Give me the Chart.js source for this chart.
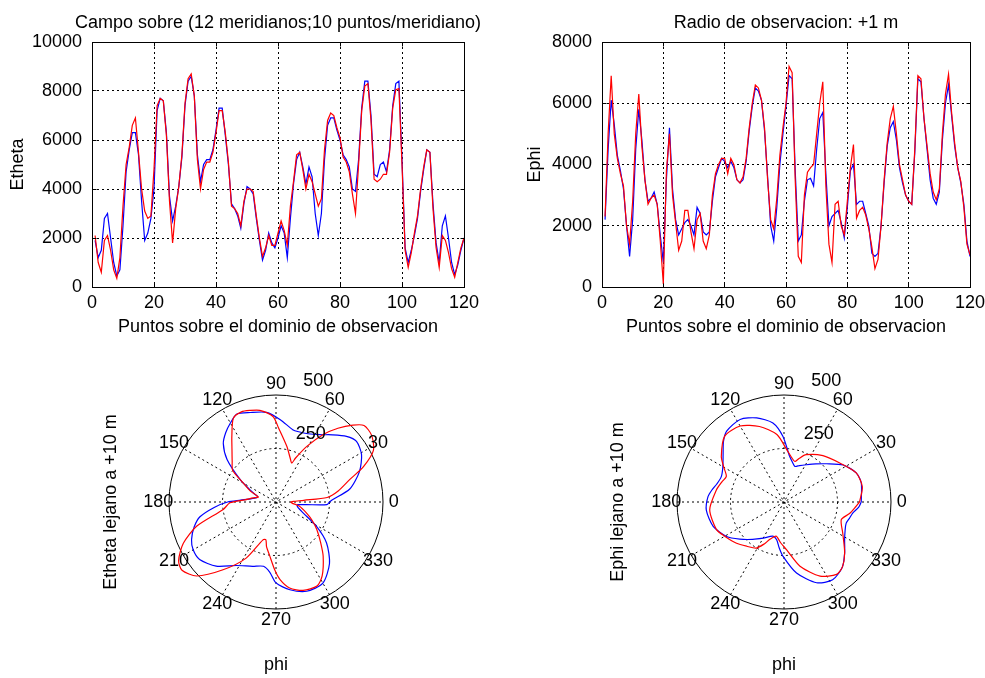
<!DOCTYPE html>
<html>
<head>
<meta charset="utf-8">
<script src="https://cdn.jsdelivr.net/npm/chart.js@4.4.1/dist/chart.umd.min.js"></script>
<style>
  body { margin: 0; background: #fff; width: 985px; height: 678px; overflow: hidden; position: relative; }
  canvas { position: absolute; }
</style>
</head>
<body>
<canvas id="etheta" width="556" height="340" style="left:0;top:0"></canvas>
<canvas id="ephi" width="572" height="340" style="left:500px;top:0"></canvas>
<canvas id="ethetaLejano" width="380" height="318" style="left:90px;top:360px"></canvas>
<canvas id="ephiLejano" width="385" height="318" style="left:600px;top:360px"></canvas>
<script>
// ---- datos ----
const puntos = Array.from({ length: 120 }, (_, i) => i + 1);

const ethetaAzul = [1900, 1200, 1500, 2800, 3000, 2000, 1000, 450, 700, 2500,
  4700, 5600, 6300, 6300, 5400, 3500, 1900, 2200, 2800, 4000,
  7200, 7700, 7600, 6300, 3700, 2700, 3300, 4100, 5300, 7400,
  8400, 8600, 7800, 5400, 4300, 5000, 5200, 5200, 5600, 6400,
  7300, 7300, 6200, 5000, 3400, 3200, 2900, 2400, 3400, 4100,
  4000, 3800, 2800, 1900, 1100, 1500, 2200, 1800, 1600, 2000,
  2500, 2200, 1200, 2800, 4200, 5200, 5500, 4900, 4200, 4900,
  4500, 3000, 2100, 3000, 5200, 6600, 6900, 6900, 6400, 6000,
  5400, 5200, 4900, 4000, 3900, 5200, 7300, 8400, 8400, 7000,
  4600, 4500, 5000, 5100, 4700, 5600, 7400, 8300, 8400, 5200,
  1600, 1000, 1500, 2100, 2800, 3900, 4800, 5600, 5500, 3400,
  1800, 1000, 2500, 2900, 2000, 1000, 500, 900, 1500, 2000];

const ethetaRojo = [2100, 1000, 600, 1900, 2100, 1500, 700, 350, 1200, 3300,
  5000, 5700, 6600, 6900, 5500, 4000, 3100, 2800, 2900, 4800,
  7400, 7700, 7600, 6200, 3500, 1800, 3200, 4100, 5400, 7500,
  8500, 8700, 7800, 5200, 4000, 4800, 5100, 5100, 5500, 6300,
  7200, 7200, 6300, 5100, 3300, 3200, 3000, 2500, 3500, 4000,
  4000, 3900, 2900, 2000, 1250, 1600, 2100, 1700, 1700, 2200,
  2700, 2300, 1700, 3300, 4300, 5400, 5500, 4800, 4000, 4600,
  4300, 3800, 3300, 3600, 5600, 6800, 7100, 7000, 6500, 6100,
  5300, 5100, 4700, 3800, 3000, 5000, 7200, 8200, 8300, 6800,
  4400, 4300, 4400, 4600, 4600, 5500, 7300, 8050, 8100, 5000,
  1500, 800, 1400, 2200, 2900, 4000, 4900, 5600, 5500, 3200,
  1600, 800, 2100, 1900, 1400, 750, 400, 1000, 1600, 2000];

const ephiAzul = [2200, 4500, 6100, 5300, 4300, 3800, 3200, 2000, 1000, 2200,
  4500, 5800, 4800, 3500, 2800, 2900, 3100, 2700, 1700, 800,
  3500, 5200, 3200, 2200, 1700, 1900, 2100, 2200, 2000, 1700,
  2600, 2400, 1800, 1700, 1800, 2800, 3600, 3900, 4200, 4100,
  3900, 4100, 3900, 3500, 3400, 3500, 4100, 5100, 5900, 6500,
  6400, 6100, 5100, 3600, 2000, 1500, 2600, 4000, 5000, 5900,
  6900, 6800, 3800, 1500, 1700, 2800, 3500, 3550, 3300, 4500,
  5500, 5700, 3700, 2000, 2300, 2400, 2500, 2100, 1600, 2600,
  3800, 4000, 2700, 2800, 2800, 2400, 2000, 1100, 1000, 1100,
  2000, 3400, 4600, 5200, 5400, 4800, 3900, 3400, 3000, 2800,
  2700, 4400, 6800, 6700, 5500, 4500, 3500, 2900, 2700, 3100,
  4800, 6000, 6600, 5600, 4600, 3900, 3400, 2700, 1500, 1000];

const ephiRojo = [2300, 5000, 6900, 5000, 4200, 3700, 3300, 2000, 1400, 2800,
  5000, 6300, 4600, 3500, 2700, 2900, 3000, 2700, 1500, 100,
  3800, 5000, 3000, 2100, 1200, 1500, 2500, 2500, 1800, 1250,
  2200, 2400, 1500, 1250, 1700, 3000, 3700, 4000, 4200, 4200,
  3700, 4200, 4000, 3500, 3400, 3600, 4200, 5200, 6000, 6600,
  6500, 6100, 5200, 3500, 2200, 1900, 2900, 4300, 5200, 6000,
  7200, 7000, 3500, 1000, 800, 3000, 3750, 3900, 4000, 5000,
  6000, 6700, 3300, 1400, 800, 2700, 2800, 2000, 1700, 2800,
  3900, 4650, 2250, 2500, 2600, 2350, 1900, 1300, 600, 900,
  2000, 3500, 4700, 5500, 5900, 5000, 4000, 3500, 3000, 2800,
  2700, 4500, 6900, 6800, 5500, 4600, 3700, 3100, 2850, 3200,
  5000, 6300, 6950, 5700, 4700, 3900, 3450, 2600, 1400, 1050];

const ticksPuntos = [0, 20, 40, 60, 80, 100, 120];
const ticksEtheta = [0, 2000, 4000, 6000, 8000, 10000];
const ticksEphi = [0, 2000, 4000, 6000, 8000];

// campo lejano: angulo (grados) y radio
const angEthetaAzul = [0, 2, 10, 20, 29, 37, 43, 50, 57, 65, 72, 77, 87, 96, 106, 114, 120, 126, 132, 139,
  148, 155, 160, 165, 172, 177, 180, 185, 191, 197, 204, 210, 217, 227, 238, 250, 259, 265, 270, 279,
  289, 300, 311, 321, 329, 338, 345, 350, 353, 355, 357, 360];
const radEthetaAzul = [250, 262, 350, 415, 457, 471, 450, 410, 375, 352, 345, 347, 385, 421, 435, 450, 426, 400, 368, 303,
  197, 134, 105, 88, 114, 165, 226, 290, 362, 400, 432, 447, 447, 410, 350, 320, 306, 330, 378, 415,
  441, 438, 381, 304, 221, 138, 108, 100, 102, 142, 238, 250];
const angEthetaRojo = [0, 2, 3.5, 5, 10, 17, 22, 28, 35, 41, 45, 50, 55, 61, 66, 68, 72, 79, 88, 92,
  100, 106, 111, 117, 124, 130, 137, 144, 150, 157, 164, 170, 176, 181, 188, 197, 204, 211, 216, 223,
  232, 242, 251, 255, 258, 263, 269, 273, 279, 287, 296, 302, 311, 318, 326, 333, 340, 350, 356, 360];
const radEthetaRojo = [68, 80, 130, 240, 295, 361, 441, 516, 545, 545, 508, 450, 385, 297, 225, 196, 215, 265, 346, 400,
  435, 445, 451, 439, 369, 320, 280, 250, 176, 130, 86, 109, 146, 215, 249, 388, 474, 531, 543, 507,
  402, 297, 187, 183, 213, 250, 318, 363, 407, 432, 437, 407, 336, 280, 230, 190, 152, 110, 75, 68];

const angEphiAzul = [0, 14, 22, 32, 42, 50, 59, 67, 73, 78, 83, 91, 98, 108, 118, 129, 135, 141, 150, 158,
  165, 170, 176, 186, 199, 211, 220, 230, 240, 252, 259, 264, 269, 280, 292, 302, 312, 320, 328, 335,
  341, 346, 351, 356, 360];
const radEphiAzul = [361, 372, 364, 326, 267, 232, 203, 185, 174, 190, 215, 307, 373, 413, 437, 426, 400, 366, 330, 316,
  325, 340, 356, 365, 350, 313, 270, 228, 195, 168, 180, 215, 254, 337, 407, 429, 408, 370, 334, 315,
  307, 315, 326, 350, 361];
const angEphiRojo = [0, 11, 22, 35, 50, 65, 71, 75, 80, 87, 96, 108, 120, 132, 144, 150, 156, 162, 170, 186,
  202, 210, 221, 230, 239, 245, 249, 257, 265, 273, 284, 296, 306, 312, 320, 332, 343, 350, 356, 360];
const radEphiRojo = [353, 373, 364, 318, 283, 244, 215, 196, 210, 245, 317, 371, 410, 414, 362, 325, 295, 305, 321, 349,
  341, 320, 294, 270, 251, 215, 188, 164, 190, 223, 309, 385, 418, 408, 370, 311, 280, 311, 335, 353];

const angulosPolar = [0, 30, 60, 90, 120, 150, 180, 210, 240, 270, 300, 330];
const radiosPolar = [250, 500];

// ---- estilo ----
Chart.defaults.font.family = '"Liberation Sans", Arial, Helvetica, sans-serif';
Chart.defaults.font.size = 18;
Chart.defaults.color = '#000';
const AZUL = '#0000ff';
const ROJO = '#ff0000';
const punteado = [2, 3];

const al = v => Math.round(v - 0.5) + 0.5;

// caja y marcas de escala al estilo matlab
const marco = {
  id: 'marco',
  afterDraw(chart) {
    const { ctx, chartArea: a, scales: { x, y } } = chart;
    const l = al(a.left), r = al(a.right), t = al(a.top), b = al(a.bottom);
    ctx.save();
    ctx.strokeStyle = '#000';
    ctx.lineWidth = 1;
    ctx.setLineDash([]);
    ctx.strokeRect(l, t, r - l, b - t);
    ctx.beginPath();
    x.ticks.forEach(tk => {
      const px = al(x.getPixelForValue(tk.value));
      ctx.moveTo(px, b); ctx.lineTo(px, b - 4);
      ctx.moveTo(px, t); ctx.lineTo(px, t + 4);
    });
    y.ticks.forEach(tk => {
      const py = al(y.getPixelForValue(tk.value));
      ctx.moveTo(l, py); ctx.lineTo(l + 4, py);
      ctx.moveTo(r, py); ctx.lineTo(r - 4, py);
    });
    ctx.stroke();
    ctx.restore();
  }
};

// margenDer: eje vacio a la derecha para que el titulo quede centrado sobre el grafico
function graficoLineal(id, azul, rojo, ticksY, titulo, tituloY, anchoY, padTituloY, margenDer) {
  return new Chart(document.getElementById(id), {
    type: 'line',
    data: {
      datasets: [
        { data: azul.map((v, i) => ({ x: puntos[i], y: v })), borderColor: AZUL, order: 2 },
        { data: rojo.map((v, i) => ({ x: puntos[i], y: v })), borderColor: ROJO, order: 1 }
      ]
    },
    options: {
      responsive: false,
      animation: false,
      devicePixelRatio: 1,
      layout: { padding: 0 },
      elements: {
        line: { borderWidth: 1.2, tension: 0, fill: false },
        point: { radius: 0 }
      },
      plugins: {
        legend: { display: false },
        tooltip: { enabled: false },
        title: {
          display: true,
          text: titulo,
          font: { size: 18, weight: 'normal' },
          padding: { top: 12, bottom: 8.4 }
        }
      },
      scales: {
        x: {
          type: 'linear',
          min: 0,
          max: 120,
          afterBuildTicks: s => { s.ticks = ticksPuntos.map(v => ({ value: v })); },
          afterFit: s => { s.height = 53; },
          ticks: { padding: 5, maxRotation: 0, callback: v => String(v) },
          grid: { color: '#000', lineWidth: 1, drawTicks: false },
          border: { display: false, dash: punteado },
          title: { display: true, text: 'Puntos sobre el dominio de observacion', padding: { top: 0, bottom: 2 } }
        },
        y: {
          min: 0,
          max: ticksY[ticksY.length - 1],
          afterBuildTicks: s => { s.ticks = ticksY.map(v => ({ value: v })); },
          afterFit: s => { s.width = anchoY; },
          ticks: { padding: 10, callback: v => String(v) },
          grid: { color: '#000', lineWidth: 1, drawTicks: false },
          border: { display: false, dash: punteado },
          title: { display: true, text: tituloY, padding: { top: padTituloY, bottom: 0 } }
        },
        derecha: {
          type: 'linear',
          position: 'right',
          afterFit: s => { s.width = margenDer; },
          ticks: { display: false },
          grid: { display: false },
          border: { display: false }
        }
      }
    },
    plugins: [marco]
  });
}

// rejilla polar de matlab
const rejillaPolar = {
  id: 'rejillaPolar',
  beforeDatasetsDraw(chart) {
    const { ctx, scales: { x, y } } = chart;
    const rMax = radiosPolar[radiosPolar.length - 1];
    const cx = x.getPixelForValue(0), cy = y.getPixelForValue(0);
    const R = x.getPixelForValue(rMax) - cx;
    ctx.save();
    ctx.strokeStyle = '#000';
    ctx.lineWidth = 1;
    ctx.beginPath();
    ctx.arc(cx, cy, R, 0, 2 * Math.PI);
    ctx.stroke();
    ctx.setLineDash(punteado);
    radiosPolar.slice(0, -1).forEach(r => {
      ctx.beginPath();
      ctx.arc(cx, cy, r / rMax * R, 0, 2 * Math.PI);
      ctx.stroke();
    });
    angulosPolar.slice(0, 6).forEach(a => {
      const c = Math.cos(a * Math.PI / 180) * R, s = Math.sin(a * Math.PI / 180) * R;
      ctx.beginPath();
      ctx.moveTo(cx - c, cy + s);
      ctx.lineTo(cx + c, cy - s);
      ctx.stroke();
    });
    ctx.restore();
  },
  afterDraw(chart) {
    const { ctx, scales: { x, y } } = chart;
    const rMax = radiosPolar[radiosPolar.length - 1];
    const cx = x.getPixelForValue(0), cy = y.getPixelForValue(0);
    const R = x.getPixelForValue(rMax) - cx;
    ctx.save();
    ctx.fillStyle = '#000';
    ctx.font = '18px "Liberation Sans", Arial, sans-serif';
    ctx.textAlign = 'center';
    ctx.textBaseline = 'middle';
    angulosPolar.forEach(a => {
      const t = a * Math.PI / 180;
      ctx.fillText(String(a), cx + 1.1 * R * Math.cos(t), cy - 1.1 * R * Math.sin(t));
    });
    ctx.textAlign = 'left';
    const t82 = 82 * Math.PI / 180;
    radiosPolar.forEach(r => {
      const d = (r + radiosPolar[0] / 20) / rMax * R;
      ctx.fillText(String(r), cx + d * Math.cos(t82) + 12, cy - d * Math.sin(t82) - 12);
    });
    ctx.restore();
  }
};

const aXY = (ang, rad) => ang.map((a, i) => ({
  x: rad[i] * Math.cos(a * Math.PI / 180),
  y: rad[i] * Math.sin(a * Math.PI / 180)
}));

function graficoPolar(id, azul, rojo, tituloY, anchoY, padTituloY, padDer) {
  const rMax = radiosPolar[radiosPolar.length - 1];
  return new Chart(document.getElementById(id), {
    type: 'scatter',
    data: {
      datasets: [
        { data: azul, borderColor: AZUL, order: 2 },
        { data: rojo, borderColor: ROJO, order: 1 }
      ]
    },
    options: {
      responsive: false,
      animation: false,
      devicePixelRatio: 1,
      layout: { padding: { left: 0, right: padDer, top: 35, bottom: 0 } },
      datasets: { scatter: { showLine: true, clip: false } },
      elements: {
        line: { borderWidth: 1.2, tension: 0.25, fill: false },
        point: { radius: 0 }
      },
      plugins: { legend: { display: false }, tooltip: { enabled: false } },
      scales: {
        x: {
          min: -rMax, max: rMax,
          afterFit: s => { s.height = 69; },
          ticks: { display: false },
          grid: { display: false },
          border: { display: false },
          title: { display: true, text: 'phi', padding: { top: 0, bottom: 2 } }
        },
        y: {
          min: -rMax, max: rMax,
          afterFit: s => { s.width = anchoY; },
          ticks: { display: false },
          grid: { display: false },
          border: { display: false },
          title: { display: true, text: tituloY, padding: { top: padTituloY, bottom: 0 } }
        }
      }
    },
    plugins: [rejillaPolar]
  });
}

graficoLineal('etheta', ethetaAzul, ethetaRojo, ticksEtheta,
  'Campo sobre (12 meridianos;10 puntos/meridiano)', 'Etheta', 92, 7, 92);
graficoLineal('ephi', ephiAzul, ephiRojo, ticksEphi,
  'Radio de observacion: +1 m', 'Ephi', 102, 24, 102);
graficoPolar('ethetaLejano', aXY(angEthetaAzul, radEthetaAzul), aXY(angEthetaRojo, radEthetaRojo),
  'Etheta lejano a +10 m', 79, 10, 87);
graficoPolar('ephiLejano', aXY(angEphiAzul, radEphiAzul), aXY(angEphiRojo, radEphiRojo),
  'Ephi lejano a +10 m', 77, 7, 94);
</script>
</body>
</html>
